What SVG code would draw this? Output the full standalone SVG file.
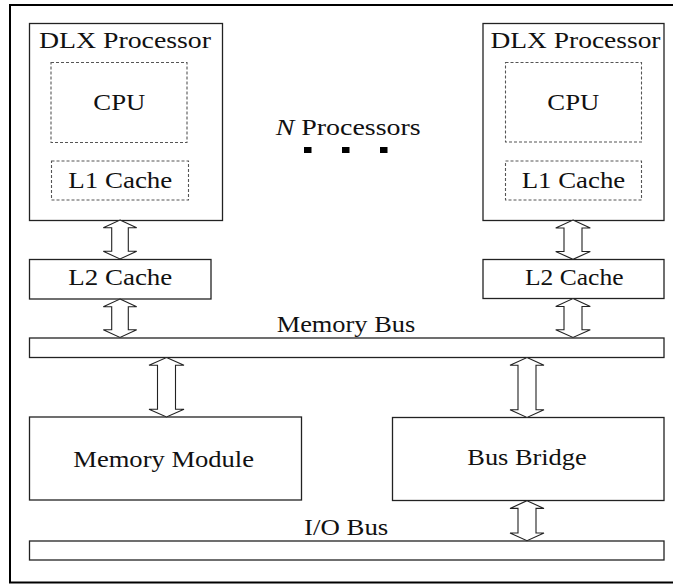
<svg xmlns="http://www.w3.org/2000/svg" width="673" height="584" viewBox="0 0 673 584">
<style>
.box{fill:#fff;stroke:#222;stroke-width:1.3}
.dash{fill:none;stroke:#555;stroke-width:1.1;stroke-dasharray:3,2}
.arr{fill:#fff;stroke:#222;stroke-width:1.1;stroke-linejoin:miter}
.t{font-family:"Liberation Serif","Times New Roman",Times,serif;font-size:24px;fill:#111}
</style>
<rect x="10" y="5" width="700" height="577.5" fill="#fff" stroke="#000" stroke-width="2"/>
<g id="dlx-left">
<rect class="box" x="29.5" y="23.5" width="193" height="197"/>
<text class="t" x="39" y="48.3" textLength="172" lengthAdjust="spacingAndGlyphs">DLX Processor</text>
</g>
<g id="cpu-left">
<rect class="dash" x="51" y="62.5" width="136" height="80"/>
<text class="t" x="93.3" y="110" textLength="52" lengthAdjust="spacingAndGlyphs">CPU</text>
</g>
<g id="l1-left">
<rect class="dash" x="51.5" y="161" width="137" height="39"/>
<text class="t" x="68.3" y="187.7" textLength="104" lengthAdjust="spacingAndGlyphs">L1 Cache</text>
</g>
<g id="dlx-right">
<rect class="box" x="483" y="23.5" width="181" height="197"/>
<text class="t" x="490.5" y="48.3" textLength="170" lengthAdjust="spacingAndGlyphs">DLX Processor</text>
</g>
<g id="cpu-right">
<rect class="dash" x="505.5" y="62.5" width="136" height="79.5"/>
<text class="t" x="547.3" y="110" textLength="52" lengthAdjust="spacingAndGlyphs">CPU</text>
</g>
<g id="l1-right">
<rect class="dash" x="505.5" y="161" width="136" height="39"/>
<text class="t" x="521.7" y="187.7" textLength="103.6" lengthAdjust="spacingAndGlyphs">L1 Cache</text>
</g>
<g id="n-processors">
<text class="t" x="275.7" y="135" textLength="145" lengthAdjust="spacingAndGlyphs"><tspan font-style="italic">N</tspan> Processors</text>
<rect x="304" y="147" width="7.5" height="6" fill="#000"/>
<rect x="342" y="147" width="7.5" height="6" fill="#000"/>
<rect x="380" y="147" width="7.5" height="6" fill="#000"/>
</g>
<g id="l2-left">
<rect class="box" x="29.5" y="259.5" width="181.5" height="39.5"/>
<text class="t" x="68.3" y="285" textLength="104" lengthAdjust="spacingAndGlyphs">L2 Cache</text>
</g>
<g id="l2-right">
<rect class="box" x="483" y="259.5" width="181" height="39"/>
<text class="t" x="525" y="285" textLength="98.5" lengthAdjust="spacingAndGlyphs">L2 Cache</text>
</g>
<g id="memory-bus">
<rect class="box" x="29.5" y="338" width="634.5" height="19.5"/>
<text class="t" x="276.7" y="332.3" textLength="138.5" lengthAdjust="spacingAndGlyphs">Memory Bus</text>
</g>
<g id="memory-module">
<rect class="box" x="29.5" y="417" width="272" height="83"/>
<text class="t" x="73.3" y="467.3" textLength="180.7" lengthAdjust="spacingAndGlyphs">Memory Module</text>
</g>
<g id="bus-bridge">
<rect class="box" x="392.5" y="417.5" width="271.5" height="83"/>
<text class="t" x="467.3" y="465" textLength="119.4" lengthAdjust="spacingAndGlyphs">Bus Bridge</text>
</g>
<g id="io-bus">
<rect class="box" x="29.5" y="541" width="634.5" height="19"/>
<text class="t" x="304" y="535" textLength="84.3" lengthAdjust="spacingAndGlyphs">I/O Bus</text>
</g>
<g id="connectors">
<path class="arr" d="M120,220 L136.7,227.7 L128.3,227.7 L128.3,251.3 L136.7,251.3 L120,259 L103.3,251.3 L111.7,251.3 L111.7,227.7 L103.3,227.7 Z"/>
<path class="arr" d="M120,299 L136.7,306.7 L128.3,306.7 L128.3,329.8 L136.7,329.8 L120,337.5 L103.3,329.8 L111.7,329.8 L111.7,306.7 L103.3,306.7 Z"/>
<path class="arr" d="M573,220 L590.3,228 L582,228 L582,251.5 L590.3,251.5 L573,259.3 L555.7,251.5 L564,251.5 L564,228 L555.7,228 Z"/>
<path class="arr" d="M573,298.5 L590.3,306.5 L582,306.5 L582,329.7 L590.3,329.7 L573,337.5 L555.7,329.7 L564,329.7 L564,306.5 L555.7,306.5 Z"/>
<path class="arr" d="M166.5,357.5 L184,365.2 L175.5,365.2 L175.5,409.3 L184,409.3 L166.5,417 L149,409.3 L157.5,409.3 L157.5,365.2 L149,365.2 Z"/>
<path class="arr" d="M527,357.5 L544,365.2 L536,365.2 L536,409.8 L544,409.8 L527,417.5 L510,409.8 L518,409.8 L518,365.2 L510,365.2 Z"/>
<path class="arr" d="M527,500.7 L544,508.4 L536,508.4 L536,533 L544,533 L527,540.7 L510,533 L518,533 L518,508.4 L510,508.4 Z"/>
</g>
</svg>
